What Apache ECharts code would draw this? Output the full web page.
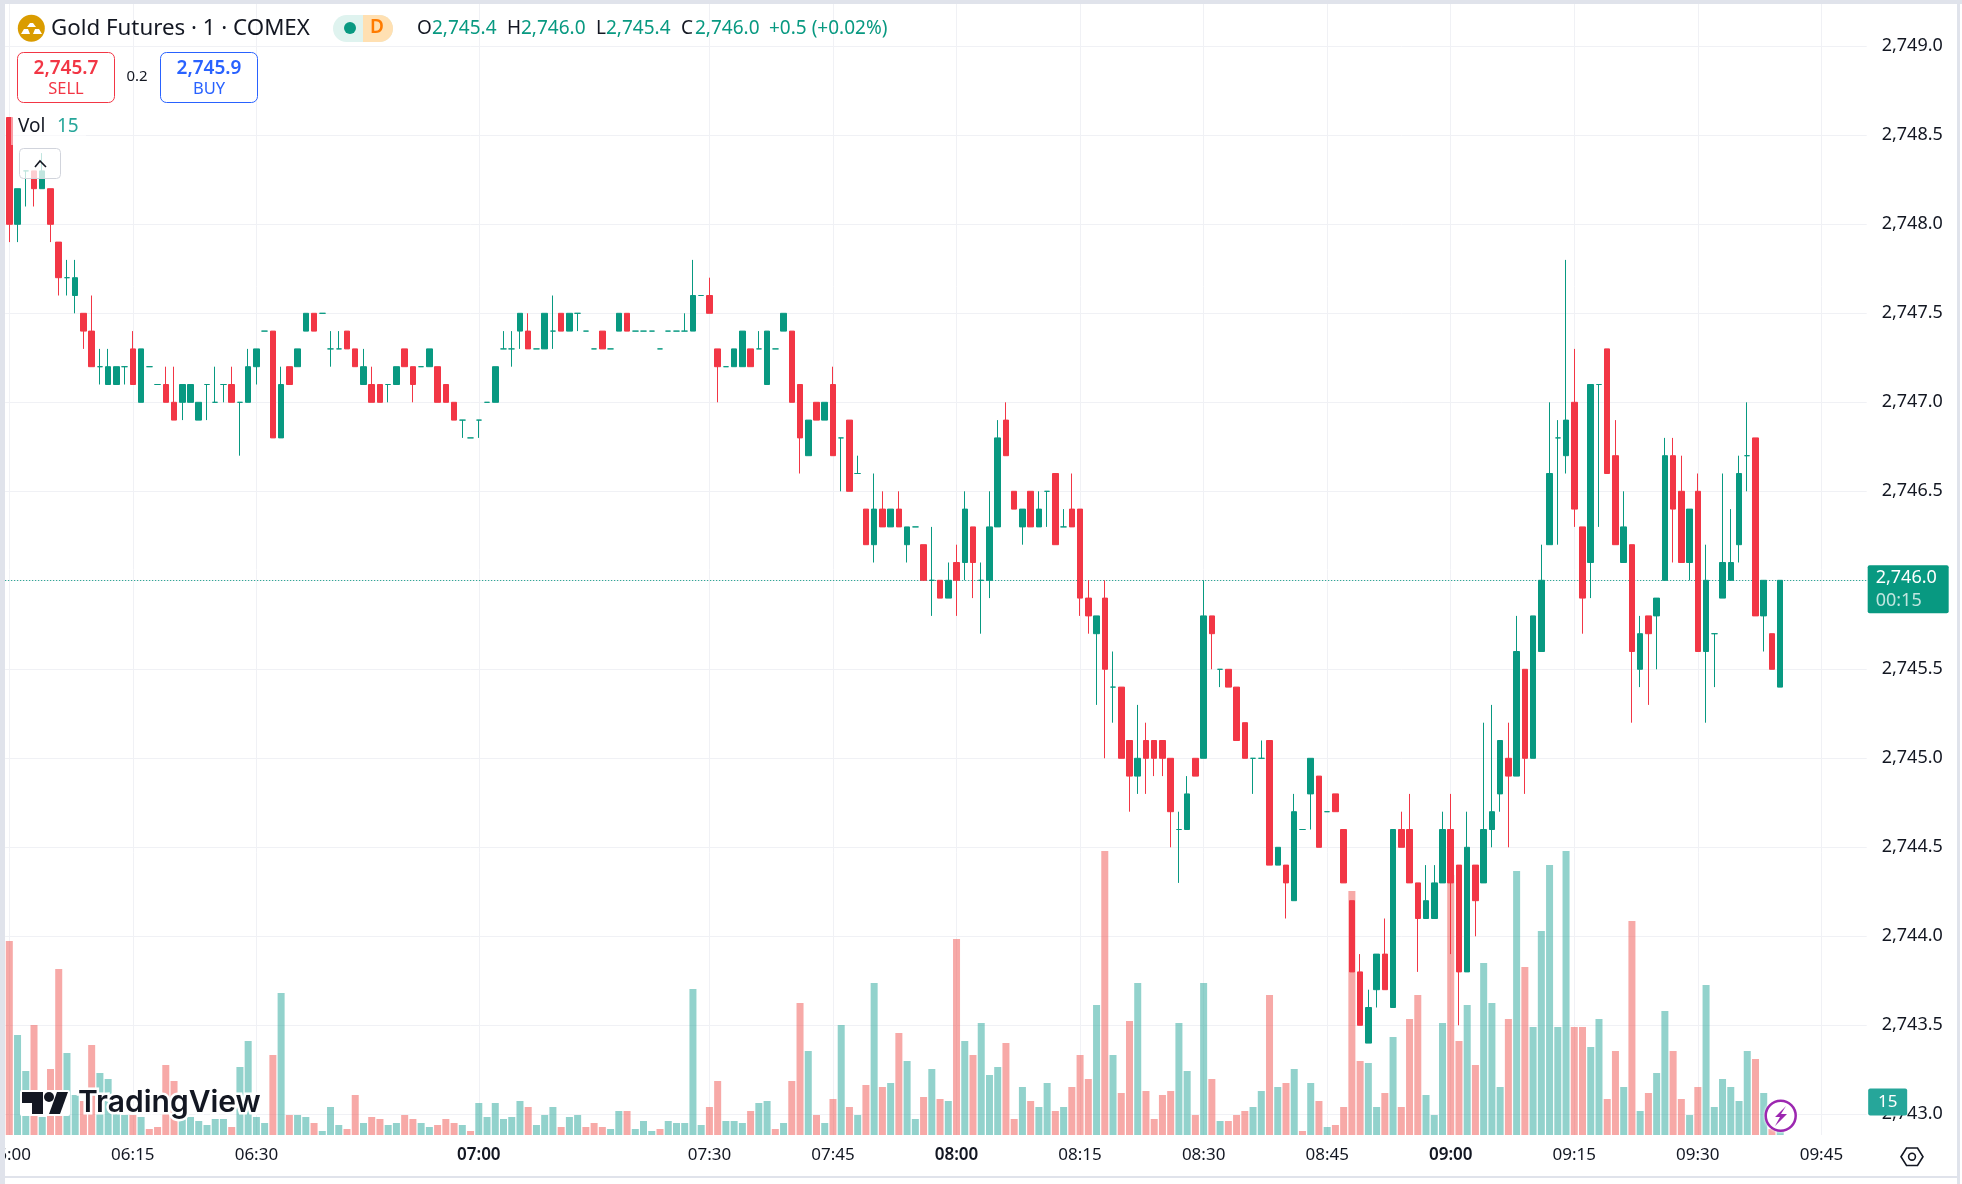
<!DOCTYPE html>
<html>
<head>
<meta charset="utf-8">
<title>Gold Futures</title>
<style>
    html, body { margin: 0; padding: 0; background: #fff; }
    #chart { width: 1962px; height: 1184px; }
</style>
<script src="https://cdn.jsdelivr.net/npm/echarts@6/dist/echarts.min.js"></script>
</head>
<body>
<div id="chart"></div>
<script>
var tickIndex = [0, 15, 30, 57, 85, 100, 115, 130, 145, 160, 175, 190, 205, 220];
var tickLabels = ['06:00', '06:15', '06:30', '07:00', '07:30', '07:45', '08:00', '08:15', '08:30', '08:45', '09:00', '09:15', '09:30', '09:45'];
var boldLabels = ['07:00', '08:00', '09:00'];
var slotCount = 226;

var opens = [
    2748.6,2748.0,2748.3,2748.3,2748.2,2748.2,2747.9,2747.7,2747.6,2747.5,
    2747.4,2747.2,2747.1,2747.1,2747.2,2747.3,2747.0,2747.2,2747.1,2747.1,
    2747.0,2747.0,2747.0,2746.9,2747.1,2747.0,2747.1,2747.1,2747.0,2747.0,
    2747.2,2747.4,2747.4,2746.8,2747.2,2747.2,2747.4,2747.5,2747.5,2747.3,
    2747.3,2747.4,2747.3,2747.1,2747.1,2747.1,2747.1,2747.1,2747.3,2747.2,
    2747.2,2747.2,2747.2,2747.1,2747.0,2746.9,2746.8,2746.9,2747.0,2747.0,
    2747.3,2747.3,2747.4,2747.4,2747.3,2747.3,2747.4,2747.5,2747.4,2747.5,
    2747.4,2747.3,2747.4,2747.3,2747.4,2747.5,2747.4,2747.4,2747.4,2747.3,
    2747.4,2747.4,2747.4,2747.4,2747.6,2747.6,2747.3,2747.2,2747.2,2747.2,
    2747.3,2747.3,2747.1,2747.3,2747.4,2747.4,2747.1,2746.7,2747.0,2746.9,
    2747.1,2746.8,2746.9,2746.6,2746.4,2746.2,2746.4,2746.3,2746.4,2746.2,
    2746.3,2746.2,2746.0,2746.0,2745.9,2746.1,2746.1,2746.3,2746.0,2746.0,
    2746.3,2746.9,2746.5,2746.3,2746.5,2746.3,2746.5,2746.6,2746.3,2746.4,
    2746.4,2745.9,2745.7,2745.9,2745.4,2745.4,2745.1,2744.9,2745.1,2745.1,
    2745.1,2745.0,2744.6,2744.6,2745.0,2745.0,2745.8,2745.5,2745.5,2745.4,
    2745.2,2745.0,2745.0,2745.1,2744.4,2744.4,2744.2,2744.6,2744.8,2744.9,
    2744.7,2744.8,2744.6,2744.2,2743.8,2743.4,2743.7,2743.9,2743.6,2744.6,
    2744.6,2744.3,2744.1,2744.1,2744.3,2744.6,2744.4,2743.8,2744.4,2744.3,
    2744.6,2744.8,2745.0,2744.9,2745.5,2745.0,2745.6,2746.2,2746.8,2746.7,
    2747.0,2746.3,2746.1,2747.1,2747.3,2746.7,2746.1,2746.2,2745.5,2745.8,
    2745.8,2746.0,2746.7,2746.5,2746.1,2746.5,2745.6,2745.7,2745.9,2746.0,
    2746.2,2746.7,2746.8,2745.8,2745.7,2745.4
];
var closes = [
    2748.0,2748.2,2748.3,2748.2,2748.3,2748.0,2747.7,2747.7,2747.7,2747.4,
    2747.2,2747.2,2747.2,2747.2,2747.2,2747.1,2747.3,2747.2,2747.1,2747.0,
    2746.9,2747.1,2747.1,2747.0,2747.1,2747.0,2747.1,2747.0,2747.0,2747.2,
    2747.3,2747.4,2746.8,2747.1,2747.1,2747.3,2747.5,2747.4,2747.5,2747.3,
    2747.3,2747.3,2747.2,2747.2,2747.0,2747.0,2747.1,2747.2,2747.2,2747.1,
    2747.2,2747.3,2747.0,2747.0,2746.9,2746.9,2746.8,2746.9,2747.0,2747.2,
    2747.3,2747.3,2747.5,2747.3,2747.3,2747.5,2747.4,2747.4,2747.5,2747.5,
    2747.4,2747.3,2747.3,2747.3,2747.5,2747.4,2747.4,2747.4,2747.4,2747.3,
    2747.4,2747.4,2747.4,2747.6,2747.6,2747.5,2747.2,2747.2,2747.3,2747.4,
    2747.2,2747.3,2747.4,2747.3,2747.5,2747.0,2746.8,2746.9,2746.9,2747.0,
    2746.7,2746.8,2746.5,2746.6,2746.2,2746.4,2746.3,2746.4,2746.3,2746.3,
    2746.3,2746.0,2746.0,2745.9,2746.0,2746.0,2746.4,2746.1,2746.0,2746.3,
    2746.8,2746.7,2746.4,2746.4,2746.3,2746.4,2746.5,2746.2,2746.3,2746.3,
    2745.9,2745.8,2745.8,2745.5,2745.4,2745.0,2744.9,2745.0,2745.0,2745.0,
    2745.0,2744.7,2744.6,2744.8,2744.9,2745.8,2745.7,2745.5,2745.4,2745.1,
    2745.0,2745.0,2745.0,2744.4,2744.5,2744.3,2744.7,2744.6,2745.0,2744.5,
    2744.7,2744.7,2744.3,2743.8,2743.5,2743.6,2743.9,2743.7,2744.6,2744.5,
    2744.3,2744.1,2744.2,2744.3,2744.6,2744.3,2743.8,2744.5,2744.2,2744.6,
    2744.7,2745.1,2744.9,2745.6,2745.0,2745.8,2746.0,2746.6,2746.8,2746.9,
    2746.4,2745.9,2747.1,2747.1,2746.6,2746.2,2746.3,2745.6,2745.7,2745.7,
    2745.9,2746.7,2746.4,2746.1,2746.4,2745.6,2746.0,2745.7,2746.1,2746.1,
    2746.6,2746.7,2745.8,2746.0,2745.5,2746.0
];
var lows = [
    2747.9,2747.9,2748.1,2748.1,2748.2,2747.9,2747.6,2747.6,2747.5,2747.3,
    2747.2,2747.1,2747.1,2747.1,2747.1,2747.1,2747.0,2747.2,2747.1,2747.0,
    2746.9,2746.9,2747.0,2746.9,2746.9,2747.0,2747.0,2747.0,2746.7,2747.0,
    2747.1,2747.4,2746.8,2746.8,2747.1,2747.2,2747.4,2747.4,2747.5,2747.2,
    2747.3,2747.3,2747.2,2747.1,2747.0,2747.0,2747.0,2747.1,2747.2,2747.0,
    2747.2,2747.2,2747.0,2747.0,2746.9,2746.8,2746.8,2746.8,2747.0,2747.0,
    2747.3,2747.2,2747.3,2747.3,2747.3,2747.3,2747.3,2747.4,2747.4,2747.4,
    2747.4,2747.3,2747.3,2747.3,2747.4,2747.4,2747.4,2747.4,2747.4,2747.3,
    2747.4,2747.4,2747.4,2747.4,2747.6,2747.5,2747.0,2747.2,2747.2,2747.2,
    2747.2,2747.3,2747.1,2747.3,2747.4,2747.0,2746.6,2746.7,2746.9,2746.9,
    2746.7,2746.5,2746.5,2746.6,2746.2,2746.1,2746.3,2746.3,2746.3,2746.1,
    2746.3,2746.0,2745.8,2745.9,2745.9,2745.8,2746.0,2745.9,2745.7,2745.9,
    2746.3,2746.7,2746.4,2746.2,2746.3,2746.3,2746.3,2746.2,2746.3,2746.3,
    2745.8,2745.7,2745.3,2745.0,2745.2,2745.0,2744.7,2744.8,2744.8,2744.9,
    2744.9,2744.5,2744.3,2744.6,2744.9,2745.0,2745.5,2745.4,2745.4,2745.1,
    2745.0,2744.8,2745.0,2744.4,2744.4,2744.1,2744.2,2744.6,2744.6,2744.5,
    2744.7,2744.7,2744.3,2743.8,2743.5,2743.4,2743.6,2743.7,2743.6,2744.5,
    2744.3,2743.8,2744.1,2744.1,2744.3,2743.9,2743.5,2743.8,2744.0,2744.3,
    2744.5,2744.7,2744.5,2744.9,2744.8,2745.0,2745.6,2746.2,2746.2,2746.6,
    2746.3,2745.7,2745.9,2746.3,2746.6,2746.2,2746.1,2745.2,2745.4,2745.3,
    2745.5,2746.0,2746.1,2746.1,2746.0,2745.6,2745.2,2745.4,2745.9,2746.0,
    2746.1,2746.5,2745.8,2745.6,2745.5,2745.4
];
var highs = [
    2748.6,2748.2,2748.3,2748.3,2748.4,2748.2,2747.9,2747.8,2747.8,2747.5,
    2747.6,2747.3,2747.3,2747.2,2747.2,2747.4,2747.3,2747.2,2747.1,2747.2,
    2747.2,2747.1,2747.1,2747.0,2747.1,2747.2,2747.1,2747.2,2747.0,2747.3,
    2747.3,2747.4,2747.4,2747.2,2747.2,2747.3,2747.5,2747.5,2747.5,2747.4,
    2747.4,2747.4,2747.3,2747.3,2747.2,2747.1,2747.1,2747.2,2747.3,2747.2,
    2747.2,2747.3,2747.2,2747.1,2747.0,2746.9,2746.8,2746.9,2747.0,2747.2,
    2747.4,2747.4,2747.5,2747.5,2747.3,2747.5,2747.6,2747.5,2747.5,2747.5,
    2747.4,2747.3,2747.4,2747.3,2747.5,2747.5,2747.4,2747.4,2747.4,2747.3,
    2747.4,2747.4,2747.5,2747.8,2747.6,2747.7,2747.3,2747.2,2747.3,2747.4,
    2747.3,2747.4,2747.4,2747.3,2747.5,2747.4,2747.1,2746.9,2747.0,2747.0,
    2747.2,2746.8,2746.9,2746.7,2746.4,2746.6,2746.5,2746.4,2746.5,2746.3,
    2746.3,2746.2,2746.3,2746.0,2746.1,2746.2,2746.5,2746.3,2746.1,2746.5,
    2746.9,2747.0,2746.5,2746.4,2746.5,2746.5,2746.5,2746.6,2746.4,2746.6,
    2746.4,2746.0,2745.8,2746.0,2745.6,2745.4,2745.1,2745.3,2745.2,2745.1,
    2745.1,2745.0,2744.7,2744.9,2745.0,2746.0,2745.8,2745.5,2745.5,2745.4,
    2745.2,2745.0,2745.1,2745.1,2744.5,2744.4,2744.8,2744.6,2745.0,2744.9,
    2744.7,2744.8,2744.6,2744.2,2743.9,2743.7,2743.9,2744.1,2744.6,2744.7,
    2744.8,2744.3,2744.4,2744.4,2744.7,2744.8,2744.4,2744.7,2744.4,2745.2,
    2745.3,2745.1,2745.2,2745.8,2745.5,2745.8,2746.2,2747.0,2746.9,2747.8,
    2747.3,2746.3,2747.1,2747.1,2747.3,2746.9,2746.5,2746.2,2745.8,2745.8,
    2745.9,2746.8,2746.8,2746.7,2746.4,2746.6,2746.2,2745.7,2746.6,2746.4,
    2746.7,2747.0,2746.8,2746.0,2745.7,2746.0
];
var volumes = [
    97,50,32,55,9,33,83,41,20,17,
    45,31,28,21,10,10,9,3,4,35,
    27,9,9,7,5,8,8,4,34,47,
    9,6,40,71,10,10,9,6,2,14,
    5,3,20,6,9,8,5,6,10,8,
    6,4,5,8,6,5,2,16,9,16,
    8,9,17,14,5,10,14,4,9,10,
    4,6,4,3,12,12,3,7,2,3,
    7,6,6,73,5,14,27,7,7,6,
    12,16,17,3,6,27,66,42,10,6,
    18,55,14,10,25,76,24,26,51,37,
    8,19,33,18,17,98,47,40,56,30,
    34,46,8,24,17,14,26,12,14,24,
    40,28,65,142,40,21,57,76,22,8,
    20,22,56,32,10,76,28,7,7,10,
    12,14,22,70,24,26,33,2,26,17,
    4,5,14,122,37,36,14,21,49,14,
    58,70,20,10,56,130,47,65,35,86,
    66,24,58,132,84,54,102,135,54,142,
    54,54,44,58,18,42,24,107,12,21,
    31,62,42,18,10,24,75,14,28,24,
    17,42,38,21,3,15
];
var volumeDown = [0,3,5,6,9,10,15,17,18,19,20,27,32,34,37,41,42,44,45,48,49,52,53,54,56,63,67,70,71,72,75,79,85,86,90,93,95,96,98,100,102,104,106,108,111,113,115,117,121,122,124,127,129,130,131,133,135,136,138,139,140,141,144,146,148,149,150,153,155,157,159,161,162,163,164,167,169,170,171,175,176,178,182,184,190,191,194,195,197,199,202,203,205,212,214];
var lastPrice = 2746.0;
var lastVolume = 15;

var up = '#089981';
var down = '#f23645';
var ink = '#131722';
var rule = '#f0f1f5';
var font = '"Noto Sans", sans-serif';

var categories = [];
var candles = [];
for (var i = 0; i < slotCount; i++) {
    var t = tickIndex.indexOf(i);
    categories.push(t >= 0 ? tickLabels[t] : '');
    if (i < opens.length) candles.push([opens[i], closes[i], lows[i], highs[i]]);
}
var volumeData = volumes.map(function(v, idx) {
    return { value: v, itemStyle: { color: volumeDown.indexOf(idx) >= 0 ? 'rgba(239,83,80,0.5)' : 'rgba(38,166,154,0.5)' } };
});

function isTick(index) { return tickIndex.indexOf(index) >= 0; }
function label(x, y, text, size, color, weight, align, z) {
    return { type: 'text', x: x, y: y, z: z || 100, style: {
        text: text, fill: color, align: align || 'left', verticalAlign: 'middle',
        font: (weight || 400) + ' ' + size + 'px ' + font
    } };
}
function box(x, y, w, h, fill, z, r, stroke) {
    return { type: 'rect', z: z || 90, shape: { x: x, y: y, width: w, height: h, r: r || 0 },
        style: { fill: fill, stroke: stroke || null, lineWidth: 1 } };
}

var overlay = [
    // frame round the panel
    box(0, 0, 5, 1184, '#e0e3eb', 95),
    box(0, 0, 1962, 4, '#e0e3eb', 95),
    box(1957, 0, 3, 1184, '#e0e3eb', 95),
    box(0, 1176, 1960, 2, '#e0e3eb', 95),
    // header
    { type: 'circle', z: 100, shape: { cx: 31.3, cy: 28.3, r: 13.5 }, style: { fill: '#da9c00' } },
    { type: 'polygon', z: 101, shape: { points: [[27, 27], [36, 27], [33, 23], [30, 23]] }, style: { fill: '#fff' } },
    { type: 'polygon', z: 101, shape: { points: [[21, 34], [30, 34], [28, 29], [24, 29]] }, style: { fill: '#fff' } },
    { type: 'polygon', z: 101, shape: { points: [[33, 34], [42, 34], [39, 29], [35, 29]] }, style: { fill: '#fff' } },
    label(51, 28.5, 'Gold Futures · 1 · COMEX', 22.3, ink),
    box(333, 15, 60, 27, '#dff3ef', 100, 13.5),
    { type: 'rect', z: 101, shape: { x: 363, y: 15, width: 30, height: 27, r: [0, 13.5, 13.5, 0] }, style: { fill: '#ffe0b2' } },
    { type: 'circle', z: 102, shape: { cx: 350, cy: 28, r: 6 }, style: { fill: up } },
    label(377, 28, 'D', 19, '#ff7b00', 600, 'center', 103),
    label(417, 29, 'O', 19, ink),
    label(432, 29, '2,745.4', 19, up),
    label(507, 29, 'H', 19, ink),
    label(521, 29, '2,746.0', 19, up),
    label(596, 29, 'L', 19, ink),
    label(606, 29, '2,745.4', 19, up),
    label(681, 29, 'C', 19, ink),
    label(695, 29, '2,746.0', 19, up),
    label(769, 29, '+0.5 (+0.02%)', 19, up),
    // sell and buy boxes
    box(17.5, 52.5, 97, 50, '#fff', 100, 6, down),
    label(66, 69, '2,745.7', 19, down, 600, 'center', 101),
    label(66, 89, 'SELL', 16.5, down, 400, 'center', 101),
    label(137, 77, '0.2', 15, ink, 400, 'center'),
    box(160.5, 52.5, 97, 50, '#fff', 100, 6, '#2962ff'),
    label(209, 69, '2,745.9', 19, '#2962ff', 600, 'center', 101),
    label(209, 89, 'BUY', 16.5, '#2962ff', 400, 'center', 101),
    // volume legend
    box(11, 117, 75, 28, 'rgba(255,255,255,0.5)', 90),
    label(18, 127, 'Vol', 19, ink),
    label(57, 127, String(lastVolume), 19, '#26a69a'),
    box(19.5, 148.5, 41, 30, 'rgba(255,255,255,0.75)', 91, 4, '#d1d4dc'),
    { type: 'polyline', z: 100, shape: { points: [[35, 167], [40, 161], [46, 167]] }, style: { stroke: ink, lineWidth: 1.6, fill: null } },
    // watermark
    { type: 'rect', z: 92, shape: { x: 22, y: 1092, width: 21, height: 11 }, style: { fill: ink } },
    { type: 'rect', z: 92, shape: { x: 32, y: 1100, width: 11, height: 14 }, style: { fill: ink } },
    { type: 'circle', z: 92, shape: { cx: 49, cy: 1097, r: 5 }, style: { fill: ink } },
    { type: 'polygon', z: 92, shape: { points: [[57, 1092], [68, 1092], [60, 1114], [49, 1114]] }, style: { fill: ink } },
    { type: 'rect', z: 91, shape: { x: 20, y: 1090, width: 50, height: 26, r: 2 }, style: { fill: '#fff' } },
    { type: 'text', x: 78, y: 1103, z: 92, style: {
        text: 'TradingView', fill: ink, align: 'left', verticalAlign: 'middle',
        font: '600 30px Inter, sans-serif', stroke: '#fff', lineWidth: 5
    } },
    // replay badge and settings icon
    { type: 'circle', z: 94, shape: { cx: 1780.7, cy: 1115.7, r: 15 }, style: { fill: '#fff', stroke: '#9c27b0', lineWidth: 2.5, shadowColor: '#fff', shadowBlur: 3 } },
    { type: 'polygon', z: 95, shape: { points: [[1786, 1106], [1775, 1117], [1780, 1117], [1775, 1126], [1787, 1114], [1781, 1114]] }, style: { fill: '#9c27b0' } },
    { type: 'polygon', z: 100, shape: { points: [[1901, 1156.7], [1906.5, 1148], [1917.5, 1148], [1923, 1156.7], [1917.5, 1165.5], [1906.5, 1165.5]] }, style: { fill: null, stroke: ink, lineWidth: 1.6 } },
    { type: 'circle', z: 100, shape: { cx: 1912, cy: 1156.7, r: 3.4 }, style: { fill: null, stroke: ink, lineWidth: 1.6 } }
];

var chart = echarts.init(document.getElementById('chart'), null, { renderer: 'canvas' });
chart.setOption({
    animation: false,
    textStyle: { fontFamily: font },
    grid: [
        { left: 5.18, top: 46.3, width: 1861.5, height: 1068, outerBoundsMode: 'none' },
        { left: 5.18, top: 4, width: 1861.5, height: 1131, outerBoundsMode: 'none' }
    ],
    xAxis: [
        { type: 'category', gridIndex: 0, data: categories, show: false },
        {
            type: 'category', gridIndex: 1, data: categories,
            axisLine: { show: false }, axisTick: { show: false },
            axisLabel: {
                interval: function(index) { return isTick(index); },
                hideOverlap: false, margin: 12, color: ink, fontSize: 17,
                formatter: function(v) { return boldLabels.indexOf(v) >= 0 ? '{b|' + v + '}' : v; },
                rich: { b: { fontSize: 17, fontWeight: 600, color: ink } }
            },
            splitLine: {
                show: true, alignWithLabel: true,
                interval: function(index) { return isTick(index); },
                lineStyle: { color: rule, width: 1 }
            }
        }
    ],
    yAxis: [
        {
            type: 'value', gridIndex: 0, position: 'right', min: 2743, max: 2749, interval: 0.5,
            axisLine: { show: false }, axisTick: { show: false },
            axisLabel: {
                margin: 15, color: ink, fontSize: 18,
                formatter: function(v) { return v.toLocaleString('en-US', { minimumFractionDigits: 1, maximumFractionDigits: 1 }); }
            },
            splitLine: { lineStyle: { color: rule, width: 1 } }
        },
        { type: 'value', gridIndex: 1, min: 0, max: 565.5, show: false, splitLine: { show: false } }
    ],
    series: [
        {
            type: 'bar', xAxisIndex: 1, yAxisIndex: 1, z: 3, barWidth: 7, data: volumeData,
            markLine: {
                silent: true, symbol: 'none', z: 80,
                lineStyle: { color: 'transparent', width: 0 },
                label: {
                    show: true, position: 'end', distance: 1, offset: [20, -3],
                    formatter: function() { return String(lastVolume); },
                    backgroundColor: '#26a69a', color: '#fff', fontSize: 17,
                    width: 39, height: 27, lineHeight: 27, align: 'center', borderRadius: 2
                },
                data: [{ yAxis: lastVolume }]
            }
        },
        {
            type: 'candlestick', xAxisIndex: 0, yAxisIndex: 0, z: 5, barWidth: 6, data: candles,
            itemStyle: {
                color: up, color0: down, borderColor: up, borderColor0: down,
                borderColorDoji: up, borderWidth: 1
            },
            markLine: {
                silent: true, symbol: 'none', z: 4,
                lineStyle: { color: up, type: [1, 2], width: 1 },
                label: {
                    position: 'end', distance: 1, offset: [0, 9],
                    formatter: function() { return '{p|2,746.0}\n{t|00:15}'; },
                    backgroundColor: up, padding: [1, 8, 1, 8], borderRadius: 2,
                    width: 65, align: 'left',
                    rich: {
                        p: { color: '#fff', fontSize: 18, lineHeight: 23 },
                        t: { color: 'rgba(255,255,255,0.75)', fontSize: 18, lineHeight: 23 }
                    }
                },
                data: [{ yAxis: lastPrice }]
            }
        }
    ],
    graphic: { elements: overlay }
});
window.addEventListener('resize', function() { chart.resize(); });
</script>
</body>
</html>
